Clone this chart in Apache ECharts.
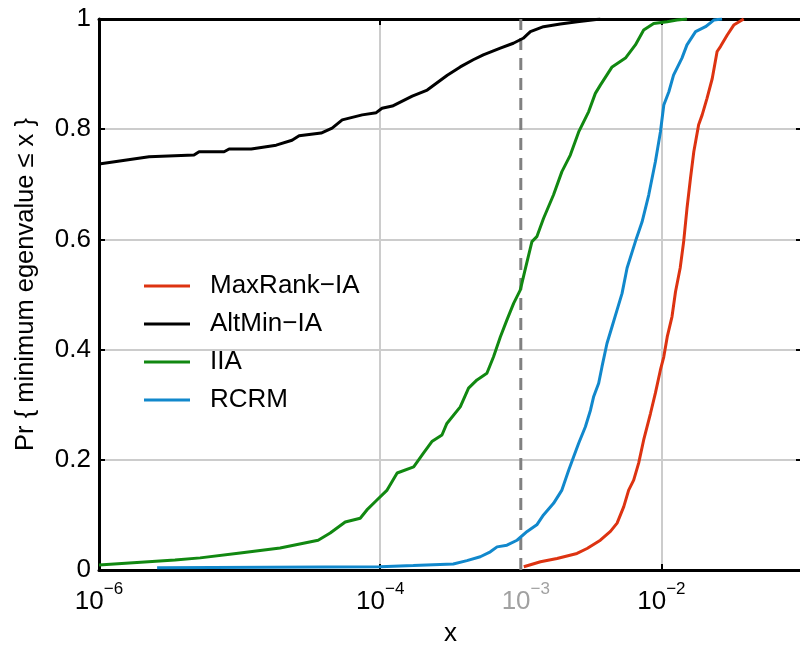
<!DOCTYPE html>
<html><head><meta charset="utf-8">
<script src="https://cdn.jsdelivr.net/npm/echarts@6/dist/echarts.min.js"></script>
<style>html,body{margin:0;padding:0;background:#fff}#c{width:800px;height:645px}</style>
</head><body><div id="c"></div>
<script>
const FONT = '"Liberation Sans", Arial, Helvetica, sans-serif';
const seriesNames = ['MaxRank\u2212IA', 'AltMin\u2212IA', 'IIA', 'RCRM'];
const seriesColors = ['#dd3311', '#000000', '#118811', '#1188cc'];

const maxrankX = [1.05e-3,1.38e-3,1.81e-3,2.51e-3,2.96e-3,3.68e-3,4.34e-3,4.84e-3,5.40e-3,5.85e-3,6.35e-3,6.89e-3,7.48e-3,8.36e-3,9.06e-3,9.84e-3,1.04e-2,1.10e-2,1.19e-2,1.26e-2,1.36e-2,1.44e-2,1.52e-2,1.61e-2,1.70e-2,1.84e-2,1.95e-2,2.11e-2,2.30e-2,2.49e-2,2.63e-2,2.94e-2,3.27e-2,3.85e-2];
const maxrankY = [0.006,0.015,0.021,0.030,0.039,0.054,0.070,0.085,0.115,0.145,0.163,0.194,0.236,0.284,0.321,0.363,0.387,0.423,0.460,0.505,0.548,0.596,0.656,0.711,0.759,0.808,0.826,0.856,0.892,0.941,0.950,0.971,0.989,1.0];

const altminX = [1e-6,2.27e-6,4.74e-6,5.15e-6,7.76e-6,8.42e-6,1.21e-5,1.82e-5,2.36e-5,2.65e-5,3.80e-5,4.55e-5,5.37e-5,7.45e-5,9.37e-5,1.03e-4,1.22e-4,1.69e-4,2.16e-4,3.00e-4,3.71e-4,4.59e-4,5.41e-4,7.15e-4,8.85e-4,1.04e-3,1.17e-3,1.45e-3,1.91e-3,2.52e-3,3.68e-3];
const altminY = [0.737,0.750,0.753,0.759,0.759,0.764,0.764,0.771,0.780,0.788,0.793,0.802,0.817,0.826,0.830,0.838,0.842,0.860,0.871,0.898,0.913,0.926,0.935,0.947,0.956,0.965,0.977,0.986,0.991,0.995,1.0];

const iiaX = [1e-6,3.47e-6,5.24e-6,1.01e-5,1.94e-5,3.62e-5,4.41e-5,5.64e-5,7.21e-5,8.04e-5,9.48e-5,1.12e-4,1.32e-4,1.73e-4,2.03e-4,2.33e-4,2.75e-4,2.98e-4,3.71e-4,4.25e-4,4.88e-4,5.74e-4,6.40e-4,7.15e-4,7.97e-4,8.89e-4,9.91e-4,1.08e-3,1.20e-3,1.30e-3,1.45e-3,1.71e-3,1.96e-3,2.25e-3,2.58e-3,3.04e-3,3.39e-3,3.68e-3,4.46e-3,5.55e-3,6.53e-3,7.48e-3,8.81e-3,1.10e-2,1.29e-2,1.52e-2];
const iiaY = [0.009,0.018,0.022,0.031,0.040,0.054,0.067,0.087,0.094,0.109,0.127,0.145,0.176,0.187,0.212,0.233,0.245,0.266,0.296,0.330,0.345,0.357,0.387,0.423,0.454,0.484,0.508,0.548,0.596,0.605,0.638,0.681,0.723,0.753,0.795,0.832,0.865,0.880,0.913,0.929,0.953,0.980,0.992,0.995,0.998,1.0];

const rcrmX = [2.59e-6,1.00e-4,1.72e-4,3.31e-4,4.14e-4,5.15e-4,6.07e-4,6.78e-4,7.97e-4,9.40e-4,1.11e-3,1.30e-3,1.45e-3,1.71e-3,1.96e-3,2.19e-3,2.38e-3,2.58e-3,2.88e-3,3.13e-3,3.30e-3,3.58e-3,3.78e-3,4.10e-3,4.46e-3,4.84e-3,5.25e-3,5.70e-3,6.53e-3,7.29e-3,8.13e-3,9.06e-3,9.84e-3,1.04e-2,1.13e-2,1.22e-2,1.40e-2,1.52e-2,1.75e-2,2.06e-2,2.36e-2,2.70e-2];
const rcrmY = [0.004,0.006,0.008,0.011,0.017,0.024,0.033,0.042,0.045,0.054,0.070,0.082,0.100,0.121,0.145,0.181,0.206,0.230,0.260,0.290,0.315,0.339,0.369,0.411,0.442,0.472,0.502,0.548,0.596,0.632,0.681,0.741,0.795,0.844,0.868,0.898,0.929,0.953,0.977,0.986,0.998,1.0];

const refLineX = [1e-3, 1e-3];
const refLineY = [0, 1];
const refLabelExp = -3;
const xLabelExps = [-6, -4, -2];
const xName = 'x';
const yName = 'Pr { minimum egenvalue \u2264 x }';

const zip = (a, b) => a.map((v, i) => [v, b[i]]);
const allX = [maxrankX, altminX, iiaX, rcrmX];
const allY = [maxrankY, altminY, iiaY, rcrmY];

const supRich = (color) => ({
  b: { fontSize: 26, fontFamily: FONT, color: color, lineHeight: 42 },
  s: { fontSize: 17, fontFamily: FONT, color: color, lineHeight: 17, verticalAlign: 'top' }
});
const supText = (e) => '{b|10}{s|\u2212' + (-e) + '}';

const chart = echarts.init(document.getElementById('c'), null, { renderer: 'canvas' });
const series = [
  {
    type: 'line', data: zip(refLineX, refLineY), symbol: 'none', silent: true, z: 1,
    lineStyle: { color: '#808080', width: 3, type: [12, 8] }
  },
  {
    type: 'scatter', data: [[refLineX[0], refLineY[0]]], symbolSize: 0, silent: true, z: 1,
    label: { show: true, position: 'bottom', distance: 11, offset: [5, 0],
      formatter: () => supText(refLabelExp), rich: supRich('#8a8a8a') }
  }
];
seriesNames.forEach((n, i) => {
  series.push({
    name: n, type: 'line', data: zip(allX[i], allY[i]), symbol: 'none', z: 3,
    lineStyle: { color: seriesColors[i], width: 3 }, itemStyle: { color: seriesColors[i] }
  });
});

const option = {
  animation: false,
  backgroundColor: '#ffffff',
  grid: { left: 99, top: 19, right: -2, bottom: 75, containLabel: false, outerBoundsMode: 'none' },
  legend: {
    data: seriesNames, orient: 'vertical', left: 139, top: 268,
    icon: 'rect', itemWidth: 46, itemHeight: 3, itemGap: 12,
    textStyle: { fontFamily: FONT, fontSize: 26, color: '#000', lineHeight: 26, padding: [0, 0, 0, 15] }
  },
  xAxis: [
    {
      type: 'log', logBase: 10, min: 1e-6, max: 1e-1, interval: 2, position: 'bottom',
      name: xName, nameLocation: 'middle', nameGap: 51,
      nameTextStyle: { fontFamily: FONT, fontSize: 26, color: '#000' },
      axisLine: { show: true, onZero: false, lineStyle: { color: '#000', width: 3 } },
      axisTick: { show: true, inside: true, length: 6, lineStyle: { color: '#000', width: 2 } },
      axisLabel: {
        margin: 11,
        formatter: (v) => {
          const e = Math.round(Math.log10(v));
          return xLabelExps.indexOf(e) >= 0 ? supText(e) : '';
        },
        rich: supRich('#000')
      },
      splitLine: { show: true, lineStyle: { color: '#cccccc', width: 2 } }
    },
    {
      type: 'log', logBase: 10, min: 1e-6, max: 1e-1, interval: 2, position: 'top',
      axisLine: { show: true, onZero: false, lineStyle: { color: '#000', width: 3 } },
      axisTick: { show: true, inside: true, length: 6, lineStyle: { color: '#000', width: 2 } },
      axisLabel: { show: false }, splitLine: { show: false }
    }
  ],
  yAxis: [
    {
      type: 'value', min: 0, max: 1, interval: 0.2, position: 'left',
      name: yName, nameLocation: 'middle', nameGap: 60,
      nameTextStyle: { fontFamily: FONT, fontSize: 25.5, color: '#000', padding: [0, 0, 0, 20] },
      axisLine: { show: true, onZero: false, lineStyle: { color: '#000', width: 3 } },
      axisTick: { show: true, inside: true, length: 6, lineStyle: { color: '#000', width: 2 } },
      axisLabel: { margin: 8, fontFamily: FONT, fontSize: 26, color: '#000',
        formatter: (v) => (v === 0 ? '0' : v === 1 ? '1' : v.toFixed(1)) },
      splitLine: { show: true, lineStyle: { color: '#cccccc', width: 2 } }
    },
    {
      type: 'value', min: 0, max: 1, interval: 0.2, position: 'right',
      axisLine: { show: true, onZero: false, lineStyle: { color: '#000', width: 3 } },
      axisTick: { show: true, inside: true, length: 6, lineStyle: { color: '#000', width: 2 } },
      axisLabel: { show: false }, splitLine: { show: false }
    }
  ],
  series: series
};
chart.setOption(option);
</script>
</body></html>
